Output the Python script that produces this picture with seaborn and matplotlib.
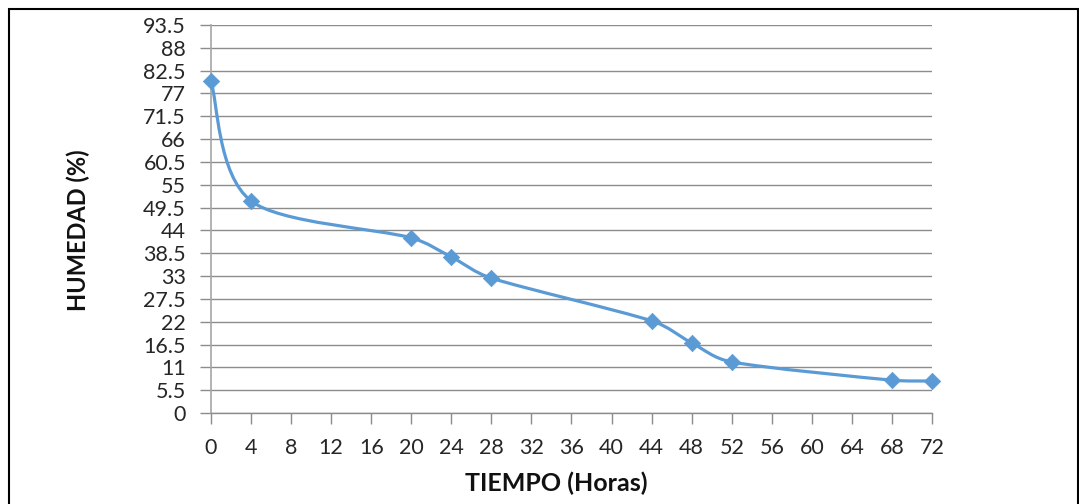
import matplotlib
matplotlib.use("Agg")
import matplotlib.pyplot as plt
from matplotlib.path import Path
from matplotlib.patches import PathPatch, Rectangle
import numpy as np
import pandas as pd
import seaborn as sns

# Data
tiempo = [0, 4, 20, 24, 28, 44, 48, 52, 68, 72]
humedad = [80.0, 51.1, 42.2, 37.6, 32.5, 22.2, 16.9, 12.3, 7.9, 7.7]
y_ticks = [0, 5.5, 11, 16.5, 22, 27.5, 33, 38.5, 44, 49.5, 55, 60.5, 66, 71.5, 77, 82.5, 88, 93.5]
y_tick_labels = ["0", "5.5", "11", "16.5", "22", "27.5", "33", "38.5", "44", "49.5",
                 "55", "60.5", "66", "71.5", "77", "82.5", "88", "93.5"]
x_ticks = list(range(0, 73, 4))
x_label = "TIEMPO (Horas)"
y_label = "HUMEDAD (%)"

sns.set_theme(style="white")
plt.rcParams['font.family'] = ['Lato', 'DejaVu Sans']

line_color = "#5B9BD5"
grid_color = "#8C8C8C"

fig = plt.figure(figsize=(10.79, 5.04), dpi=100)
ax = fig.add_axes([0.1955, 0.1806, 0.8638 - 0.1955, 0.9504 - 0.1806])

df = pd.DataFrame({"t": tiempo, "h": humedad})

# Smoothed line (Bezier, Catmull-Rom style like Excel's smoothed line)
pts = np.column_stack([tiempo, humedad]).astype(float)
verts = [tuple(pts[0])]
codes = [Path.MOVETO]
n = len(pts)
for i in range(n - 1):
    p0 = pts[i - 1] if i > 0 else pts[i]
    p1 = pts[i]
    p2 = pts[i + 1]
    p3 = pts[i + 2] if i + 2 < n else pts[i + 1]
    seg = np.linalg.norm(p2 - p1)
    d1 = p2 - p0
    d2 = p3 - p1
    # limit tangent lengths to avoid overshoot on short segments
    c1 = p1 + d1 / 6.0 * min(1.0, seg / max(np.linalg.norm(d1) / 2.0, 1e-9))
    c2 = p2 - d2 / 6.0 * min(1.0, seg / max(np.linalg.norm(d2) / 2.0, 1e-9))
    verts += [tuple(c1), tuple(c2), tuple(p2)]
    codes += [Path.CURVE4, Path.CURVE4, Path.CURVE4]
ax.add_patch(PathPatch(Path(verts, codes), facecolor="none", edgecolor=line_color,
                       lw=2.3, zorder=3, capstyle="round", joinstyle="round", clip_on=False))

sns.scatterplot(data=df, x="t", y="h", ax=ax, marker="D", s=70, color=line_color,
                edgecolor=line_color, linewidth=0.5, zorder=4, legend=False, clip_on=False)

ax.set_xlim(0, 72)
ax.set_ylim(0, 93.5)
ax.set_yticks(y_ticks)
ax.set_yticklabels(y_tick_labels)
ax.set_xticks(x_ticks)
ax.set_xticklabels([str(v) for v in x_ticks])

ax.grid(axis="y", color=grid_color, lw=1.0)
ax.grid(axis="x", visible=False)
ax.set_axisbelow(True)
for s in ["top", "right"]:
    ax.spines[s].set_visible(False)
ax.spines["left"].set_color("#A6A6A6")
ax.spines["left"].set_linewidth(1.2)
ax.spines["bottom"].set_color(grid_color)
ax.spines["bottom"].set_linewidth(1.0)

ax.tick_params(axis="y", which="major", left=True, length=8, width=1.0, color=grid_color,
               labelsize=15.5, labelcolor="#262626", pad=10)
ax.tick_params(axis="x", which="major", bottom=True, length=8, width=1.0, color=grid_color,
               labelsize=15.5, labelcolor="#262626", pad=10)

ax.set_xlabel(x_label, fontsize=18, fontweight="bold", color="#111111", labelpad=10, x=0.4785)
ax.set_ylabel(y_label, fontsize=17, fontweight="bold", color="#111111", labelpad=38, y=0.4716)

# Outer frame
fig.patches.append(Rectangle((9 / 1079, -0.05), (1078 - 9) / 1079, 1.05 - 9 / 504 + 0.0,
                             transform=fig.transFigure, fill=False, edgecolor="black",
                             lw=1.5, zorder=0))

fig.savefig("out.png", dpi=100, facecolor="white")
